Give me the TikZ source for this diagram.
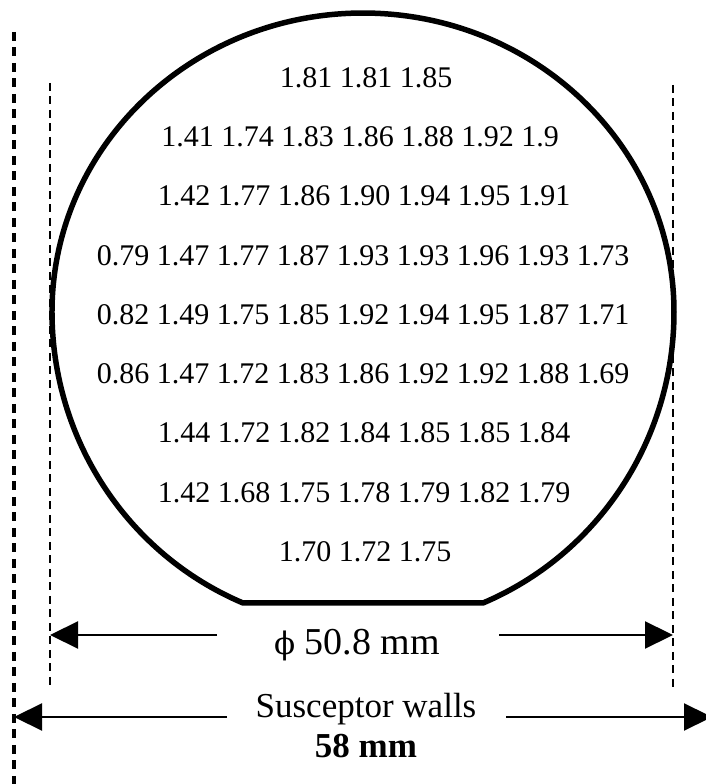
\documentclass[tikz,border=0pt]{standalone}
\usepackage{fontspec}
\setmainfont{Liberation Serif}
\newfontfamily\greekfont{DejaVu Serif}
\usetikzlibrary{arrows.meta}

\begin{document}
\begin{tikzpicture}[x=1pt, y=1pt]
  \useasboundingbox (0,0) rectangle (706,784);
  \tikzset{
    vals/.style={anchor=base, font=\fontsize{30}{36}\selectfont},
    wall/.style={dash pattern=on 9pt off 6.5pt, line width=3.5pt},
    rim/.style={dash pattern=on 8pt off 5.5pt, line width=2.5pt},
    dim/.style={-{Triangle[length=28pt, width=27pt]}, line width=2.2pt},
  }

  % wafer with its flat
  \draw[line width=5.5pt, line join=round] (483,181)
    arc[start angle=-67.3, end angle=0, x radius=311, y radius=315.4]
    arc[start angle=0, end angle=180, x radius=311, y radius=299]
    arc[start angle=180, end angle=247.3, x radius=311, y radius=315.4]
    -- cycle;

  % measured values
  \node[vals] (r0) at (366,696) {1.81 1.81 1.85};
  \node[vals] (r1) at (360,637) {1.41 1.74 1.83 1.86 1.88 1.92 1.9};
  \node[vals] (r2) at (364,578) {1.42 1.77 1.86 1.90 1.94 1.95 1.91};
  \node[vals] (r3) at (363,518) {0.79 1.47 1.77 1.87 1.93 1.93 1.96 1.93 1.73};
  \node[vals] (r4) at (363,459) {0.82 1.49 1.75 1.85 1.92 1.94 1.95 1.87 1.71};
  \node[vals] (r5) at (363,400) {0.86 1.47 1.72 1.83 1.86 1.92 1.92 1.88 1.69};
  \node[vals] (r6) at (364,341) {1.44 1.72 1.82 1.84 1.85 1.85 1.84};
  \node[vals] (r7) at (364,281) {1.42 1.68 1.75 1.78 1.79 1.82 1.79};
  \node[vals] (r8) at (365,222) {1.70 1.72 1.75};

  % labels
  \node[anchor=base, font=\fontsize{38}{44}\selectfont] (dia) at (357,129) {{\greekfont\fontsize{31}{40}\selectfont ϕ} 50.8 mm};
  \node[anchor=base, font=\fontsize{35}{42}\selectfont] (walls) at (366,66) {Susceptor walls};
  \node[anchor=base, font=\fontsize{35}{42}\selectfont\bfseries] (gap) at (366,27) {58 mm};

  % dashed limits
  \coordinate (wallLtop) at (14,752);
  \coordinate (wallLbot) at (14,0);
  \coordinate (rimLtop) at (50,701);
  \coordinate (rimLbot) at (50,96);
  \coordinate (rimRtop) at (673,699);
  \coordinate (rimRbot) at (673,97);
  \draw[wall] (wallLtop) -- (wallLbot);
  \draw[rim] (rimLtop) -- (rimLbot);
  \draw[rim] (rimRtop) -- (rimRbot);

  % dimension arrows
  \coordinate (diaL) at (50,149);
  \coordinate (diaLin) at (217,149);
  \coordinate (diaR) at (673,149);
  \coordinate (diaRin) at (499,149);
  \coordinate (wallsL) at (14,67);
  \coordinate (wallsLin) at (227,67);
  \coordinate (wallsR) at (712,67);
  \coordinate (wallsRin) at (506,67);
  \draw[dim] (diaLin) -- (diaL);
  \draw[dim] (diaRin) -- (diaR);
  \draw[dim] (wallsLin) -- (wallsL);
  \draw[dim] (wallsRin) -- (wallsR);
\end{tikzpicture}
\end{document}
